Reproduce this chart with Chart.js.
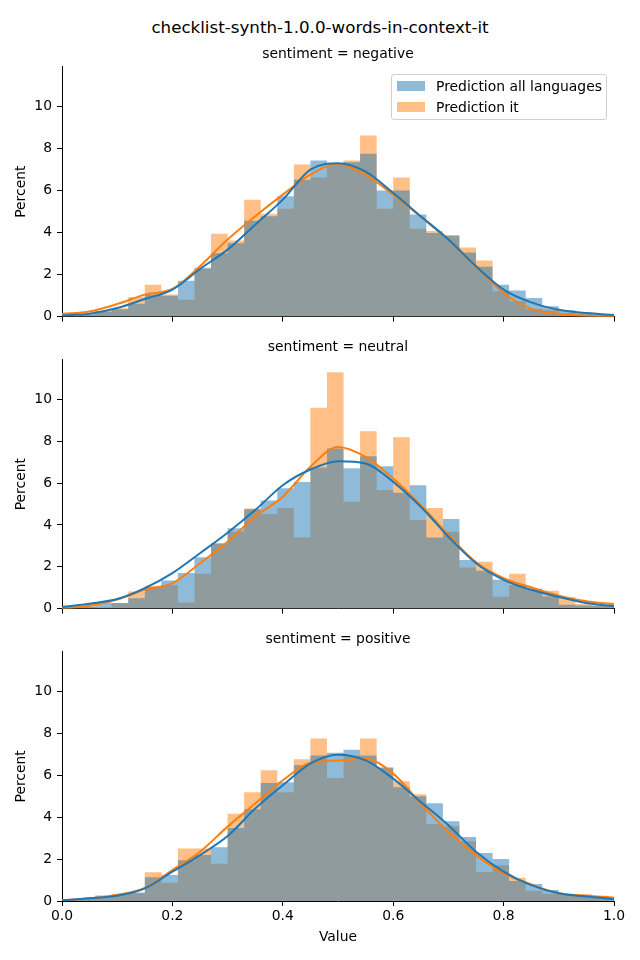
<!DOCTYPE html>
<html>
<head>
<meta charset="utf-8">
<script src="https://cdn.jsdelivr.net/npm/chart.js@4/dist/chart.umd.min.js"></script>
<style>
  body { margin: 0; background: #fff; font-family: "DejaVu Sans", sans-serif; }
  #fig { position: relative; width: 640px; height: 960px; background: #fff; overflow: hidden; }
  #suptitle { position: absolute; left: 0; top: 17px; width: 640px; text-align: center;
    font-size: 16.7px; line-height: 20px; color: #000; }
  .panel { position: absolute; left: 0; width: 640px; }
  .panel canvas { display: block; }
  #legend { position: absolute; left: 391px; top: 74px; width: 214px; height: 44px;
    border: 1px solid #d0d0d0; border-radius: 3px; background: rgba(255,255,255,0.8);
    font-size: 13.9px; color: #000; }
  .lg-row { position: absolute; left: 5px; height: 20px; line-height: 20px; white-space: nowrap; }
  .lg-patch { position: absolute; left: 0; top: 5px; width: 28px; height: 10px; }
  .lg-text { position: absolute; left: 39px; top: 0; }
</style>
</head>
<body>
<div id="fig">
  <div id="suptitle">checklist-synth-1.0.0-words-in-context-it</div>
  <div class="panel" style="top:40px"><canvas id="p0" width="640" height="290"></canvas></div>
  <div class="panel" style="top:333px"><canvas id="p1" width="640" height="289"></canvas></div>
  <div class="panel" style="top:625px"><canvas id="p2" width="640" height="335"></canvas></div>
  <div id="legend">
    <div class="lg-row" style="top:1px">
      <span class="lg-patch" style="background:rgba(31,119,180,0.5)"></span>
      <span class="lg-text">Prediction all languages</span>
    </div>
    <div class="lg-row" style="top:22px">
      <span class="lg-patch" style="background:rgba(255,127,14,0.5)"></span>
      <span class="lg-text">Prediction it</span>
    </div>
  </div>
</div>
<script>
// ---------- Data ----------
const BIN_WIDTH = 0.03;
const binStarts = [
  0.00, 0.03, 0.06, 0.09, 0.12, 0.15, 0.18, 0.21, 0.24, 0.27, 0.30, 0.33,
  0.36, 0.39, 0.42, 0.45, 0.48, 0.51, 0.54, 0.57, 0.60, 0.63, 0.66, 0.69,
  0.72, 0.75, 0.78, 0.81, 0.84, 0.87, 0.90, 0.93, 0.96, 0.99,
];

// percent per bin
const negAll = [0.05, 0.12, 0.24, 0.35, 0.62, 1.05, 1.0, 1.71, 2.33, 3.02, 3.49, 4.57, 4.78, 5.73, 6.52, 7.43, 7.3, 7.35, 7.75, 6.0, 6.0, 4.86, 3.98, 3.86, 3.05, 2.38, 1.52, 1.24, 0.89, 0.49, 0.3, 0.2, 0.13, 0.06];
const negIt = [0.03, 0.1, 0.26, 0.4, 0.94, 1.52, 1.05, 0.81, 2.27, 3.95, 3.62, 5.57, 4.9, 5.14, 7.24, 6.63, 7.3, 7.43, 8.62, 5.14, 6.62, 4.19, 4.08, 3.86, 3.29, 2.67, 1.21, 0.73, 0.37, 0.3, 0.17, 0.1, 0.05, 0.03];
const neuAll = [0.05, 0.1, 0.3, 0.27, 0.5, 1.03, 1.35, 1.7, 2.46, 3.13, 3.84, 4.75, 5.17, 5.76, 6.05, 6.75, 7.65, 6.71, 7.29, 6.81, 5.54, 5.9, 3.4, 4.29, 2.33, 1.81, 1.38, 1.14, 0.95, 0.59, 0.19, 0.15, 0.15, 0.15];
const neuIt = [0.03, 0.1, 0.05, 0.27, 0.82, 1.1, 1.13, 0.3, 1.67, 3.1, 3.68, 4.79, 4.52, 4.81, 3.4, 9.6, 11.3, 5.11, 8.48, 5.67, 8.19, 4.24, 4.81, 3.67, 1.97, 2.24, 0.57, 1.67, 0.93, 0.86, 0.56, 0.22, 0.15, 0.27];
const posAll = [0.05, 0.1, 0.26, 0.3, 0.4, 1.13, 1.24, 1.95, 2.2, 2.57, 3.49, 4.38, 5.63, 5.67, 6.48, 6.95, 7.08, 7.22, 6.95, 6.35, 5.43, 5.0, 4.67, 3.81, 3.05, 2.29, 2.0, 0.95, 0.81, 0.52, 0.33, 0.25, 0.2, 0.12];
const posIt = [0.05, 0.1, 0.13, 0.35, 0.37, 1.37, 0.87, 2.51, 2.51, 1.78, 4.17, 5.19, 6.24, 5.19, 6.76, 7.76, 5.87, 6.95, 7.76, 6.4, 5.71, 5.1, 3.67, 3.57, 2.85, 1.38, 1.71, 1.11, 0.49, 0.35, 0.3, 0.32, 0.25, 0.15];

// KDE curves, read at these x positions
const kdeX = [0, 0.05, 0.1, 0.15, 0.2, 0.25, 0.3, 0.35, 0.4, 0.45, 0.5, 0.55, 0.6, 0.65, 0.7, 0.75, 0.8, 0.85, 0.9, 0.95, 1.0];
const negAllKde = [0.05, 0.14, 0.41, 0.84, 1.29, 2.27, 3.19, 4.38, 5.57, 7.0, 7.3, 6.9, 5.89, 4.78, 3.67, 2.4, 1.29, 0.68, 0.33, 0.17, 0.08];
const negItKde = [0.13, 0.25, 0.6, 1.05, 1.32, 2.4, 3.67, 4.78, 5.81, 6.76, 7.27, 6.75, 5.81, 4.75, 3.67, 2.4, 1.13, 0.37, 0.14, 0.05, 0.02];
const neuAllKde = [0.08, 0.24, 0.46, 0.98, 1.7, 2.65, 3.63, 4.71, 5.9, 6.65, 7.05, 6.94, 6.06, 4.87, 3.44, 2.17, 1.38, 0.9, 0.56, 0.27, 0.11];
const neuItKde = [0.03, 0.14, 0.43, 0.9, 1.22, 2.17, 3.2, 4.4, 5.35, 6.78, 7.73, 7.25, 6.22, 4.95, 3.52, 2.22, 1.46, 1.02, 0.62, 0.35, 0.22];
const posAllKde = [0.03, 0.13, 0.25, 0.6, 1.4, 2.19, 3.1, 4.41, 5.52, 6.56, 6.98, 6.71, 5.84, 4.73, 3.62, 2.35, 1.4, 0.76, 0.37, 0.21, 0.1];
const posItKde = [0.03, 0.13, 0.29, 0.62, 1.48, 2.35, 3.55, 4.65, 5.76, 6.6, 6.71, 6.79, 6.08, 4.65, 3.3, 2.19, 1.32, 0.79, 0.37, 0.25, 0.16];

const xTicks = [0, 0.2, 0.4, 0.6, 0.8, 1.0];
const yTicks = [0, 2, 4, 6, 8, 10];

const PANELS = [
  { id: 'p0', title: 'sentiment = negative', all: negAll, it: negIt, allKde: negAllKde, itKde: negItKde, bottom: false },
  { id: 'p1', title: 'sentiment = neutral', all: neuAll, it: neuIt, allKde: neuAllKde, itKde: neuItKde, bottom: false },
  { id: 'p2', title: 'sentiment = positive', all: posAll, it: posIt, allKde: posAllKde, itKde: posItKde, bottom: true },
];

const BLUE = '#1f77b4';
const ORANGE = '#ff7f0e';
const BLUE_A = 'rgba(31,119,180,0.5)';
const ORANGE_A = 'rgba(255,127,14,0.5)';
const FONT = { family: '"DejaVu Sans", sans-serif', size: 13.9 };

// Histogram as one stepped, filled outline per series: each bin value holds
// from its start to the next start (no seams between adjacent bars).
function histSteps(values) {
  const pts = binStarts.map((s, i) => ({ x: s, y: values[i] }));
  const last = binStarts.length - 1;
  pts.push({ x: binStarts[last] + BIN_WIDTH, y: values[last] });
  return pts;
}
function curve(values) {
  return kdeX.map((x, i) => ({ x, y: values[i] }));
}

for (const p of PANELS) {
  new Chart(document.getElementById(p.id), {
    type: 'line',
    data: {
      datasets: [
        // first dataset is drawn on top
        { data: curve(p.allKde), borderColor: BLUE, borderWidth: 2, pointRadius: 0,
          cubicInterpolationMode: 'monotone', fill: false, order: 0 },
        { data: curve(p.itKde), borderColor: ORANGE, borderWidth: 2, pointRadius: 0,
          cubicInterpolationMode: 'monotone', fill: false, order: 1 },
        { label: 'Prediction all languages', data: histSteps(p.all), stepped: 'before',
          borderWidth: 0, borderColor: 'rgba(0,0,0,0)', pointRadius: 0,
          backgroundColor: BLUE_A, fill: 'origin', clip: 0, order: 2 },
        { label: 'Prediction it', data: histSteps(p.it), stepped: 'before',
          borderWidth: 0, borderColor: 'rgba(0,0,0,0)', pointRadius: 0,
          backgroundColor: ORANGE_A, fill: 'origin', clip: 0, order: 3 },
      ],
    },
    options: {
      responsive: false,
      animation: false,
      events: [],
      layout: { padding: { left: 0, right: 26, top: 0, bottom: 0 } },
      plugins: {
        legend: { display: false },
        tooltip: { enabled: false },
        title: {
          display: true,
          fullSize: false,
          text: p.title,
          color: '#000',
          font: { ...FONT, weight: 'normal' },
          padding: { top: 6, bottom: 4 },
        },
      },
      scales: {
        x: {
          type: 'linear',
          min: 0,
          max: 1,
          afterBuildTicks: (s) => { s.ticks = xTicks.map((v) => ({ value: v })); },
          afterFit: (s) => { s.height = p.bottom ? 59 : 13; },
          grid: { display: true, drawOnChartArea: false, drawTicks: true, tickLength: 5, color: '#000' },
          border: { display: true, color: '#000', width: 1 },
          ticks: {
            display: p.bottom,
            color: '#000',
            font: FONT,
            padding: 2,
            maxRotation: 0,
            autoSkip: false,
            callback: (v) => Number(v).toFixed(1),
          },
          title: {
            display: p.bottom,
            text: 'Value',
            color: '#000',
            font: FONT,
            padding: { top: 4, bottom: 14.5 },
          },
        },
        y: {
          min: 0,
          max: 11.9,
          afterBuildTicks: (s) => { s.ticks = yTicks.map((v) => ({ value: v })); },
          afterFit: (s) => { s.width = 62; },
          grid: { display: true, drawOnChartArea: false, drawTicks: true, tickLength: 5, color: '#000' },
          border: { display: true, color: '#000', width: 1 },
          ticks: { color: '#000', font: FONT, padding: 5, autoSkip: false, callback: (v) => String(v) },
          title: {
            display: true,
            text: 'Percent',
            color: '#000',
            font: FONT,
            padding: { top: 13, bottom: 0 },
          },
        },
      },
    },
  });
}
</script>
</body>
</html>
